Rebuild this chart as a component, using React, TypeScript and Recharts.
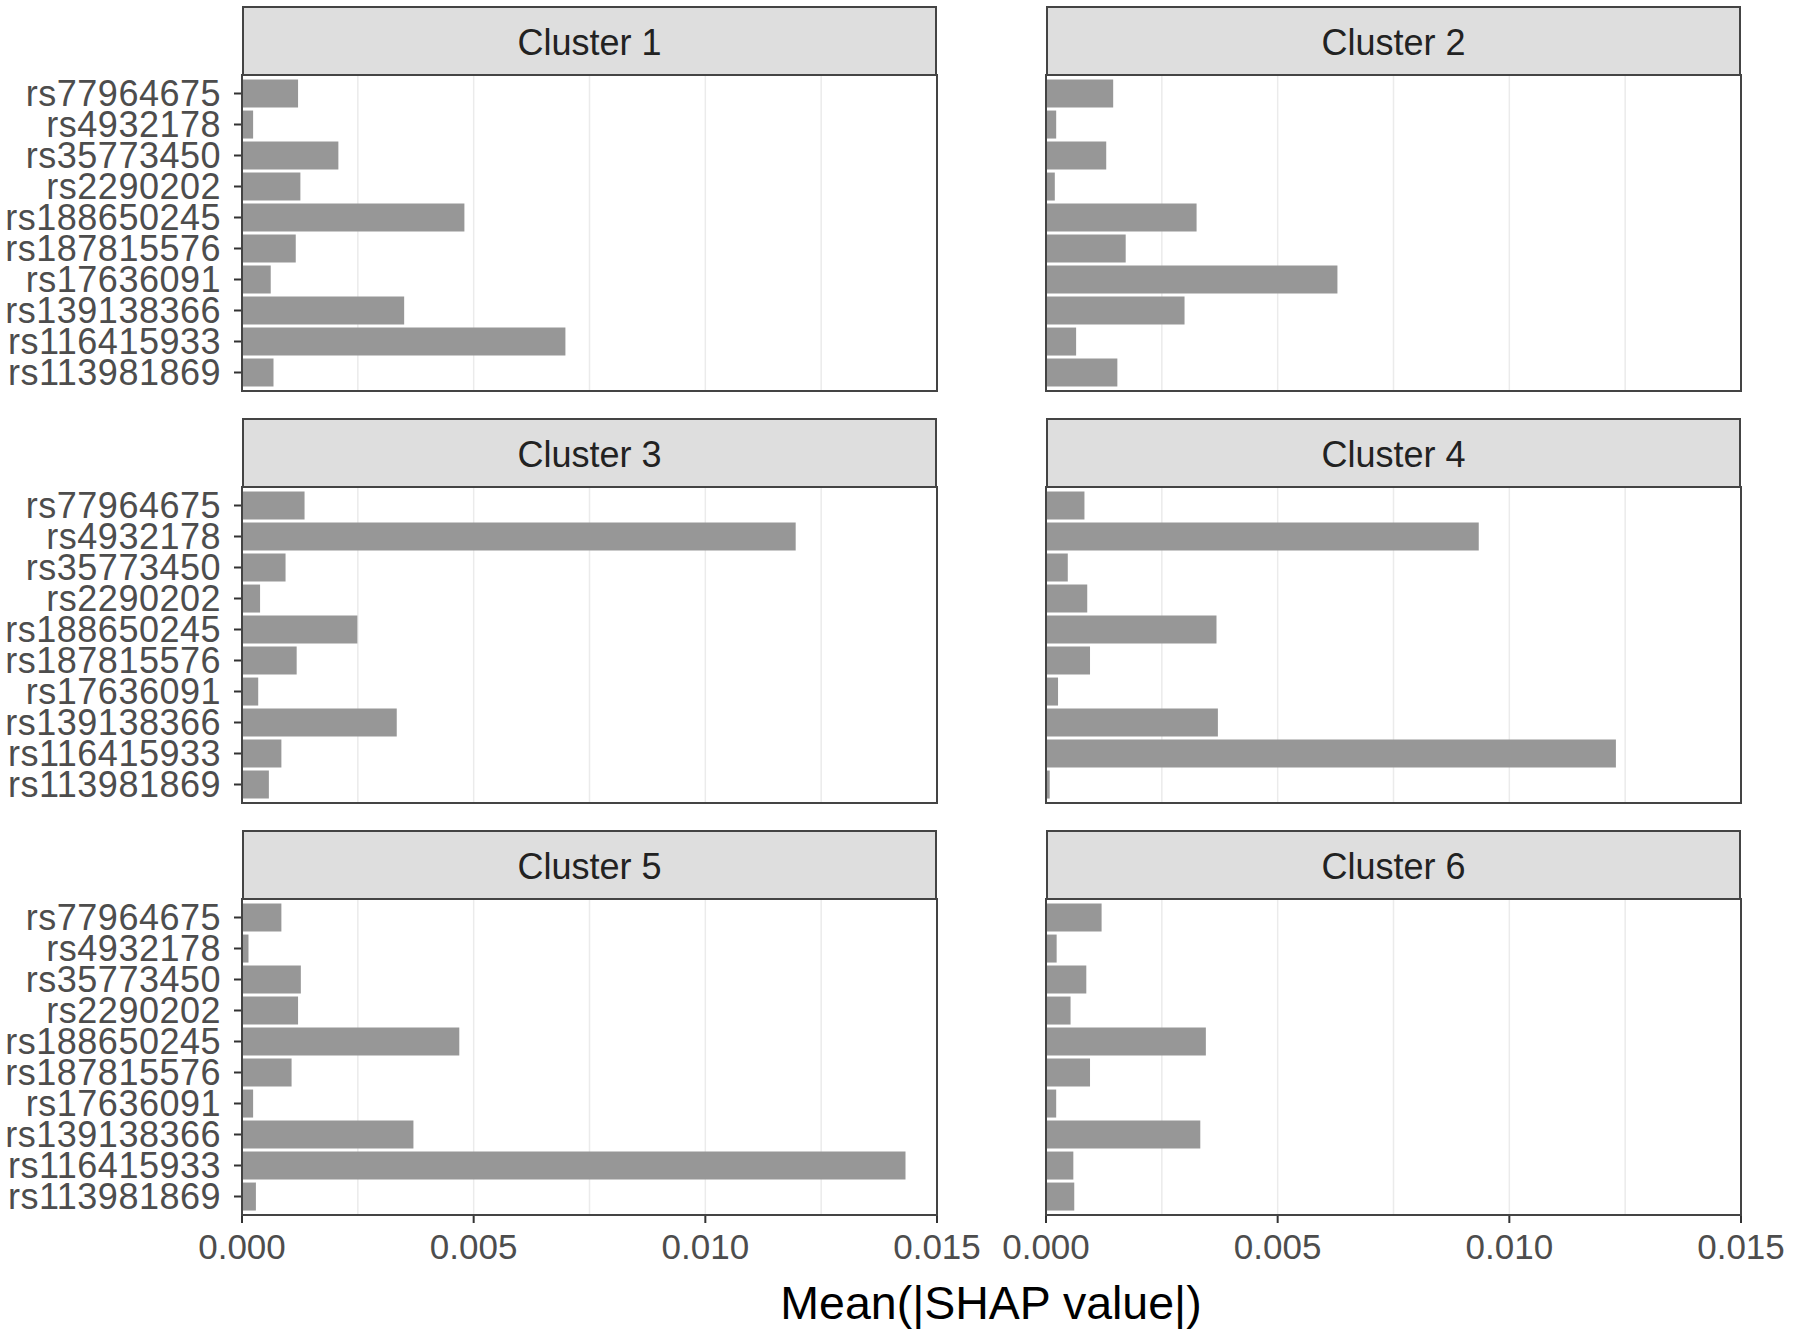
import { BarChart, Bar, XAxis, YAxis, CartesianGrid } from 'recharts';

// SNPs, top to bottom as drawn
const snps = [
  'rs77964675',
  'rs4932178',
  'rs35773450',
  'rs2290202',
  'rs188650245',
  'rs187815576',
  'rs17636091',
  'rs139138366',
  'rs116415933',
  'rs113981869',
];

// Mean(|SHAP value|) per cluster, same order as snps
const cluster1 = [0.00121, 0.00024, 0.00208, 0.00126, 0.0048, 0.00116, 0.00062, 0.0035, 0.00698, 0.00068];
const cluster2 = [0.00145, 0.00022, 0.0013, 0.00019, 0.00325, 0.00172, 0.00629, 0.00299, 0.00065, 0.00154];
const cluster3 = [0.00135, 0.01195, 0.00094, 0.00039, 0.00249, 0.00118, 0.00035, 0.00334, 0.00085, 0.00058];
const cluster4 = [0.00083, 0.00934, 0.00047, 0.00089, 0.00368, 0.00095, 0.00026, 0.00371, 0.0123, 0.00008];
const cluster5 = [0.00085, 0.00014, 0.00127, 0.00121, 0.00469, 0.00107, 0.00024, 0.0037, 0.01432, 0.0003];
const cluster6 = [0.0012, 0.00023, 0.00087, 0.00053, 0.00345, 0.00095, 0.00022, 0.00333, 0.00059, 0.00061];

const clusterNames = ['Cluster 1', 'Cluster 2', 'Cluster 3', 'Cluster 4', 'Cluster 5', 'Cluster 6'];
const clusterValues = [cluster1, cluster2, cluster3, cluster4, cluster5, cluster6];

const xTicks = [0, 0.005, 0.01, 0.015];
const gridValues = [0, 0.0025, 0.005, 0.0075, 0.01, 0.0125, 0.015];

const FONT = '"Liberation Sans", Arial, Helvetica, sans-serif';
const PLOT_W = 695;
const PLOT_H = 316;
const STRIP_H = 69;
const colLeft = [242, 1046];
const stripTop = [6, 418, 830];

interface PanelProps {
  name: string;
  values: number[];
  col: number;
  row: number;
}

function Panel({ name, values, col, row }: PanelProps) {
  const data = snps.map((snp, i) => ({ snp, value: values[i] }));
  const showY = col === 0;
  const showX = row === 2;
  const plotLeft = colLeft[col];
  const plotTop = stripTop[row] + STRIP_H;
  const chartLeft = showY ? 0 : plotLeft - 50;
  const marginLeft = showY ? 0 : 50;
  const yWidth = showY ? plotLeft : 0;
  const chartWidth = plotLeft - chartLeft + PLOT_W + 60;
  const xHeight = showX ? 70 : 0;

  return (
    <>
      <div
        style={{
          position: 'absolute',
          left: plotLeft,
          top: stripTop[row],
          width: PLOT_W,
          height: STRIP_H + 1,
          boxSizing: 'border-box',
          border: '2px solid #444444',
          background: '#DEDEDE',
          display: 'flex',
          alignItems: 'center',
          justifyContent: 'center',
          paddingTop: 4,
          fontFamily: FONT,
          fontSize: 36,
          color: '#222222',
        }}
      >
        {name}
      </div>
      <div style={{ position: 'absolute', left: chartLeft, top: plotTop }}>
        <BarChart
          layout="vertical"
          width={chartWidth}
          height={PLOT_H + xHeight}
          data={data}
          margin={{ top: 0, right: 60, bottom: 0, left: marginLeft }}
          barCategoryGap="5%"
        >
          <CartesianGrid
            horizontal={false}
            verticalValues={gridValues}
            stroke="#EBEBEB"
            strokeWidth={1.5}
          />
          <XAxis
            type="number"
            domain={[0, 0.015]}
            allowDataOverflow
            ticks={xTicks}
            hide={!showX}
            height={xHeight}
            axisLine={false}
            tickSize={8}
            tickMargin={11}
            tickLine={{ stroke: '#333333', strokeWidth: 2 }}
            tick={{ fill: '#4D4D4D', fontSize: 35, fontFamily: FONT }}
            tickFormatter={(v: number) => v.toFixed(3)}
          />
          <YAxis
            type="category"
            dataKey="snp"
            hide={!showY}
            width={yWidth}
            axisLine={false}
            padding={{ top: 3, bottom: 3 }}
            tickSize={8}
            tickMargin={13}
            interval={0}
            tickLine={{ stroke: '#333333', strokeWidth: 2 }}
            tick={{ fill: '#4D4D4D', fontSize: 36, fontFamily: FONT, letterSpacing: 0.5 }}
          />
          <Bar dataKey="value" fill="#979797" isAnimationActive={false} />
        </BarChart>
      </div>
      <div
        style={{
          position: 'absolute',
          left: plotLeft - 1,
          top: plotTop - 1,
          width: PLOT_W + 2,
          height: PLOT_H + 2,
          boxSizing: 'border-box',
          border: '2px solid #444444',
          pointerEvents: 'none',
        }}
      />
    </>
  );
}

export default function App() {
  return (
    <div
      style={{
        position: 'absolute',
        left: 0,
        top: 0,
        width: 1800,
        height: 1332,
        background: '#FFFFFF',
        overflow: 'hidden',
      }}
    >
      {clusterNames.map((name, i) => (
        <Panel key={name} name={name} values={clusterValues[i]} col={i % 2} row={Math.floor(i / 2)} />
      ))}
      <svg style={{ position: 'absolute', left: 0, top: 1270 }} width={1800} height={62}>
        <text x={991} y={49} textAnchor="middle" fontSize={46.5} fontFamily={FONT} fill="#000000">
          Mean(|SHAP value|)
        </text>
      </svg>
    </div>
  );
}
